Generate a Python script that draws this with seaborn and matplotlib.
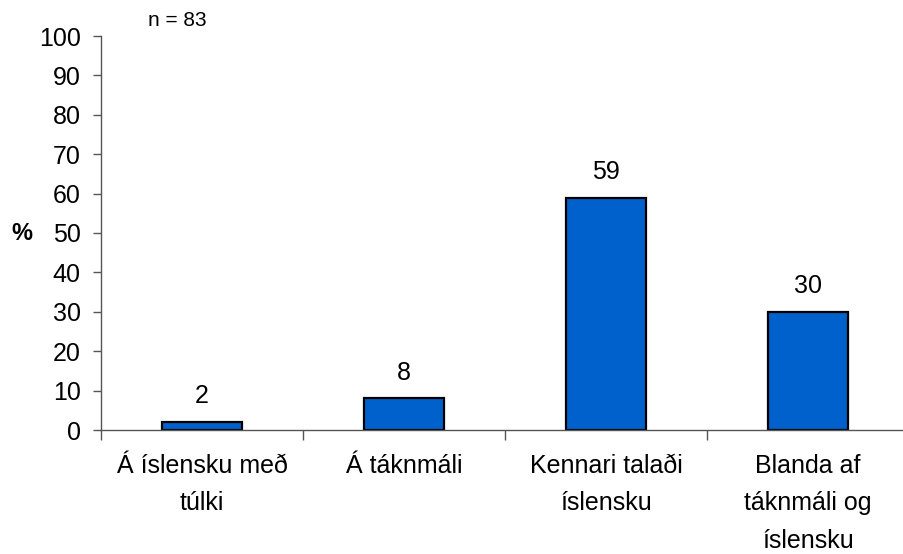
import matplotlib
matplotlib.use("Agg")
import matplotlib.pyplot as plt
import seaborn as sns
import pandas as pd

categories = ["Á íslensku með\ntúlki", "Á táknmáli", "Kennari talaði\níslensku",
              "Blanda af\ntáknmáli og\níslensku"]
values = [2, 8, 59, 30]
n_text = "n = 83"

sns.set_style("ticks")
plt.rcParams['font.family'] = ['Liberation Sans', 'DejaVu Sans']
plt.rcParams['text.color'] = 'black'
plt.rcParams['xtick.color'] = '#555555'
plt.rcParams['ytick.color'] = '#555555'
plt.rcParams['xtick.labelcolor'] = 'black'
plt.rcParams['ytick.labelcolor'] = 'black'

df = pd.DataFrame({"cat": categories, "val": values})

fig = plt.figure(figsize=(9.04, 5.54), dpi=100)
ax = fig.add_axes([101/904, 124/554, 808/904, 394/554])

sns.barplot(data=df, x="cat", y="val", color="#0060CC", saturation=1,
            width=0.4, edgecolor="black", linewidth=1.6, ax=ax)
ax.bar_label(ax.containers[0], labels=[str(v) for v in values],
             padding=10, fontsize=18, color="black")

ax.set_xlim(-0.5, 3.5)
ax.set_ylim(0, 100)
ax.set_yticks(range(0, 101, 10))
ax.set_xticks(range(len(categories)))
ax.set_xticklabels(categories, fontsize=18, linespacing=1.72, va="top")
ax.set_xticks([-0.5, 0.5, 1.5, 2.5, 3.5], minor=True)
ax.tick_params(axis="x", which="major", bottom=False, length=0, pad=17)
ax.tick_params(axis="x", which="minor", bottom=True, length=7, direction="out", width=1)
ax.tick_params(axis="y", left=True, length=6, direction="out", width=1, labelsize=18, pad=8.5)
ax.set_xlabel("")
ax.set_ylabel("")

for s in ["top", "right"]:
    ax.spines[s].set_visible(False)
for s in ["left", "bottom"]:
    ax.spines[s].set_color("#555555")
    ax.spines[s].set_linewidth(1)

fig.text(22/904, 1 - 233/554, "%", fontsize=17, fontweight="bold", va="center", ha="center")
fig.text(148/904, 1 - 21/554, n_text, fontsize=15, va="center", ha="left")

fig.savefig("out.png", dpi=100)
